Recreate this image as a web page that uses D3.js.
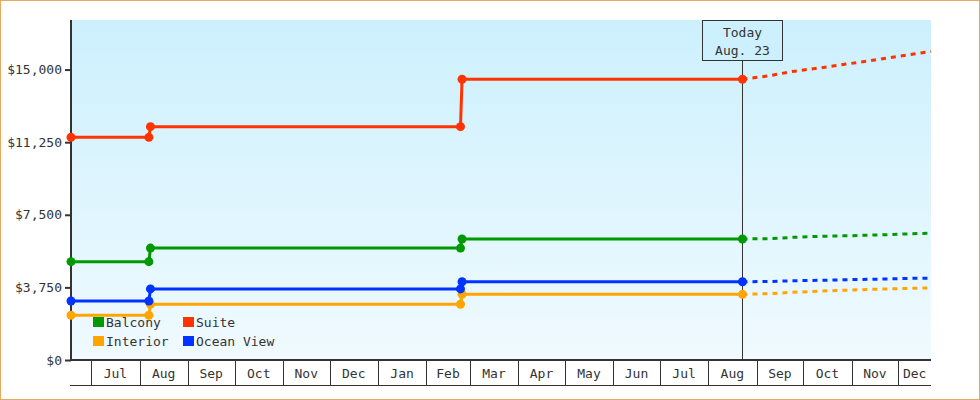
<!DOCTYPE html>
<html>
<head>
<meta charset="utf-8">
<script src="https://cdn.jsdelivr.net/npm/d3@7"></script>
<style>
  html, body { margin: 0; padding: 0; background: #fff; }
  svg { display: block; }
  text { font-family: "DejaVu Sans Mono", "Liberation Mono", monospace; font-size: 13px; fill: #333; }
</style>
</head>
<body>
<svg id="chart" width="980" height="400"></svg>
<script>
// ---------- data ----------
const seriesNames = ["Balcony", "Suite", "Interior", "Ocean View"];
const seriesColors = ["#009900", "#ff3300", "#ffa500", "#0033ff"];

// price history dates (step changes)
const historyDates = ["2014-06-18", "2014-08-07", "2014-08-08", "2015-02-23", "2015-02-24", "2015-08-23"];
const balconyHistory   = [5080, 5080, 5780, 5780, 6250, 6250];
const suiteHistory     = [11500, 11500, 12050, 12050, 14500, 14500];
const interiorHistory  = [2310, 2310, 2880, 2880, 3390, 3390];
const oceanViewHistory = [3050, 3050, 3670, 3670, 4040, 4040];

// forecast after today
const forecastDates = ["2015-08-23", "2015-09-10", "2015-09-23", "2015-10-12", "2015-10-31", "2015-11-19", "2015-12-09", "2015-12-22"];
const balconyForecast   = [6250, 6270, 6330, 6390, 6420, 6460, 6520, 6545];
const suiteForecast     = [14500, 14690, 14890, 15090, 15310, 15530, 15780, 15930];
const interiorForecast  = [3390, 3430, 3490, 3560, 3610, 3660, 3700, 3730];
const oceanViewForecast = [4040, 4055, 4090, 4115, 4150, 4175, 4215, 4225];

const yTickValues = [0, 3750, 7500, 11250, 15000];
const yTickLabels = ["$0", "$3,750", "$7,500", "$11,250", "$15,000"];

const xTickDates = ["2014-07-01", "2014-08-01", "2014-09-01", "2014-10-01", "2014-11-01", "2014-12-01",
                    "2015-01-01", "2015-02-01", "2015-03-01", "2015-04-01", "2015-05-01", "2015-06-01",
                    "2015-07-01", "2015-08-01", "2015-09-01", "2015-10-01", "2015-11-01", "2015-12-01"];
const xTickLabels = ["Jul", "Aug", "Sep", "Oct", "Nov", "Dec", "Jan", "Feb", "Mar", "Apr", "May", "Jun",
                     "Jul", "Aug", "Sep", "Oct", "Nov", "Dec"];

const domainStart = "2014-06-18";
const domainEnd = "2015-12-22";
const todayDate = "2015-08-23";
const todayLabel = ["Today", "Aug. 23"];
const yMax = 17560;

// ---------- build ----------
const parse = d3.utcParse("%Y-%m-%d");
const histories = [balconyHistory, suiteHistory, interiorHistory, oceanViewHistory];
const forecasts = [balconyForecast, suiteForecast, interiorForecast, oceanViewForecast];
const series = seriesNames.map((name, i) => ({
  name, color: seriesColors[i],
  hist: historyDates.map((d, j) => ({ date: parse(d), value: histories[i][j] })),
  fc: forecastDates.map((d, j) => ({ date: parse(d), value: forecasts[i][j] }))
}));

const W = 980, H = 400;
const m = { left: 71, right: 49, top: 20, bottom: 40 };
const x0 = m.left, x1 = W - m.right, y0 = m.top, y1 = H - m.bottom;

const x = d3.scaleUtc().domain([parse(domainStart), parse(domainEnd)]).range([x0, x1]);
const y = d3.scaleLinear().domain([0, yMax]).range([y1, y0]);

const svg = d3.select("#chart");

// outer border
svg.append("rect").attr("x", 0.5).attr("y", 0.5).attr("width", W - 1).attr("height", H - 1)
  .attr("fill", "#fff").attr("stroke", "#e8a860").attr("stroke-width", 1);

// plot background gradient
const defs = svg.append("defs");
const grad = defs.append("linearGradient").attr("id", "bg").attr("x1", 0).attr("y1", 0).attr("x2", 0).attr("y2", 1);
grad.append("stop").attr("offset", "0%").attr("stop-color", "#ccf0fd");
grad.append("stop").attr("offset", "100%").attr("stop-color", "#f0faff");
svg.append("rect").attr("x", x0).attr("y", y0).attr("width", x1 - x0).attr("height", y1 - y0).attr("fill", "url(#bg)");

// y axis
const yAxis = d3.axisLeft(y).tickValues(yTickValues).tickFormat((d, i) => yTickLabels[i]).tickSize(6).tickPadding(3);
const gy = svg.append("g").attr("transform", `translate(${x0},0)`).call(yAxis);
gy.select(".domain").remove();
gy.selectAll(".tick line").attr("stroke", "#333").attr("stroke-width", 2);
gy.selectAll(".tick text").attr("fill", "#333").style("font-size", "13px")
  .style("font-family", '"DejaVu Sans Mono", monospace');
svg.append("line").attr("x1", x0).attr("x2", x0).attr("y1", y0).attr("y2", y1 + 1)
  .attr("stroke", "#333").attr("stroke-width", 2);

// x axis: cells between month boundaries
const xAxisH = 25;
svg.append("line").attr("x1", x0 - 1).attr("x2", x1).attr("y1", y1).attr("y2", y1).attr("stroke", "#333").attr("stroke-width", 2);
svg.append("line").attr("x1", x0 - 1).attr("x2", x1).attr("y1", y1 + xAxisH + 0.5).attr("y2", y1 + xAxisH + 0.5).attr("stroke", "#333").attr("stroke-width", 1);
const tickDates = xTickDates.map(parse);
svg.append("g").selectAll("line").data(tickDates).join("line")
  .attr("x1", d => Math.round(x(d)) + 0.5).attr("x2", d => Math.round(x(d)) + 0.5)
  .attr("y1", y1).attr("y2", y1 + xAxisH)
  .attr("stroke", "#333").attr("stroke-width", 1);
svg.append("g").selectAll("text").data(tickDates).join("text")
  .attr("x", (d, i) => {
    const a = x(d);
    const b = i + 1 < tickDates.length ? x(tickDates[i + 1]) : x1;
    return (a + b) / 2;
  })
  .attr("y", y1 + 17.5)
  .attr("text-anchor", "middle")
  .text((d, i) => xTickLabels[i]);

// today marker
const tx = Math.round(x(parse(todayDate))) + 0.5;
svg.append("line").attr("x1", tx).attr("x2", tx).attr("y1", y0 + 40).attr("y2", y1)
  .attr("stroke", "#333").attr("stroke-width", 1);
svg.append("rect").attr("x", tx - 40).attr("y", y0 + 0.5).attr("width", 80).attr("height", 40)
  .attr("fill", "#ccf0fd").attr("stroke", "#333").attr("stroke-width", 1);
svg.append("text").attr("x", tx).attr("y", y0 + 17).attr("text-anchor", "middle").text(todayLabel[0]);
svg.append("text").attr("x", tx).attr("y", y0 + 35).attr("text-anchor", "middle").text(todayLabel[1]);

// lines
const line = d3.line().x(d => x(d.date)).y(d => y(d.value));
const gs = svg.append("g").selectAll("g").data(series).join("g");
gs.append("path").attr("d", d => line(d.fc)).attr("fill", "none")
  .attr("stroke", d => d.color).attr("stroke-width", 3).attr("stroke-dasharray", "5,5");
gs.append("path").attr("d", d => line(d.hist)).attr("fill", "none")
  .attr("stroke", d => d.color).attr("stroke-width", 3);
gs.selectAll("circle").data(d => d.hist.map(p => ({ ...p, color: d.color }))).join("circle")
  .attr("cx", d => x(d.date)).attr("cy", d => y(d.value)).attr("r", 4.5)
  .attr("fill", d => d.color);

// legend
const legendOrder = [0, 1, 2, 3];
const lg = svg.append("g").selectAll("g").data(legendOrder).join("g")
  .attr("transform", (d, i) => `translate(${93 + (i % 2) * 90},${317 + Math.floor(i / 2) * 19})`);
lg.append("rect").attr("width", 11).attr("height", 10).attr("fill", d => seriesColors[d]);
lg.append("text").attr("x", 13).attr("y", 9.5).text(d => seriesNames[d]);
</script>
</body>
</html>
